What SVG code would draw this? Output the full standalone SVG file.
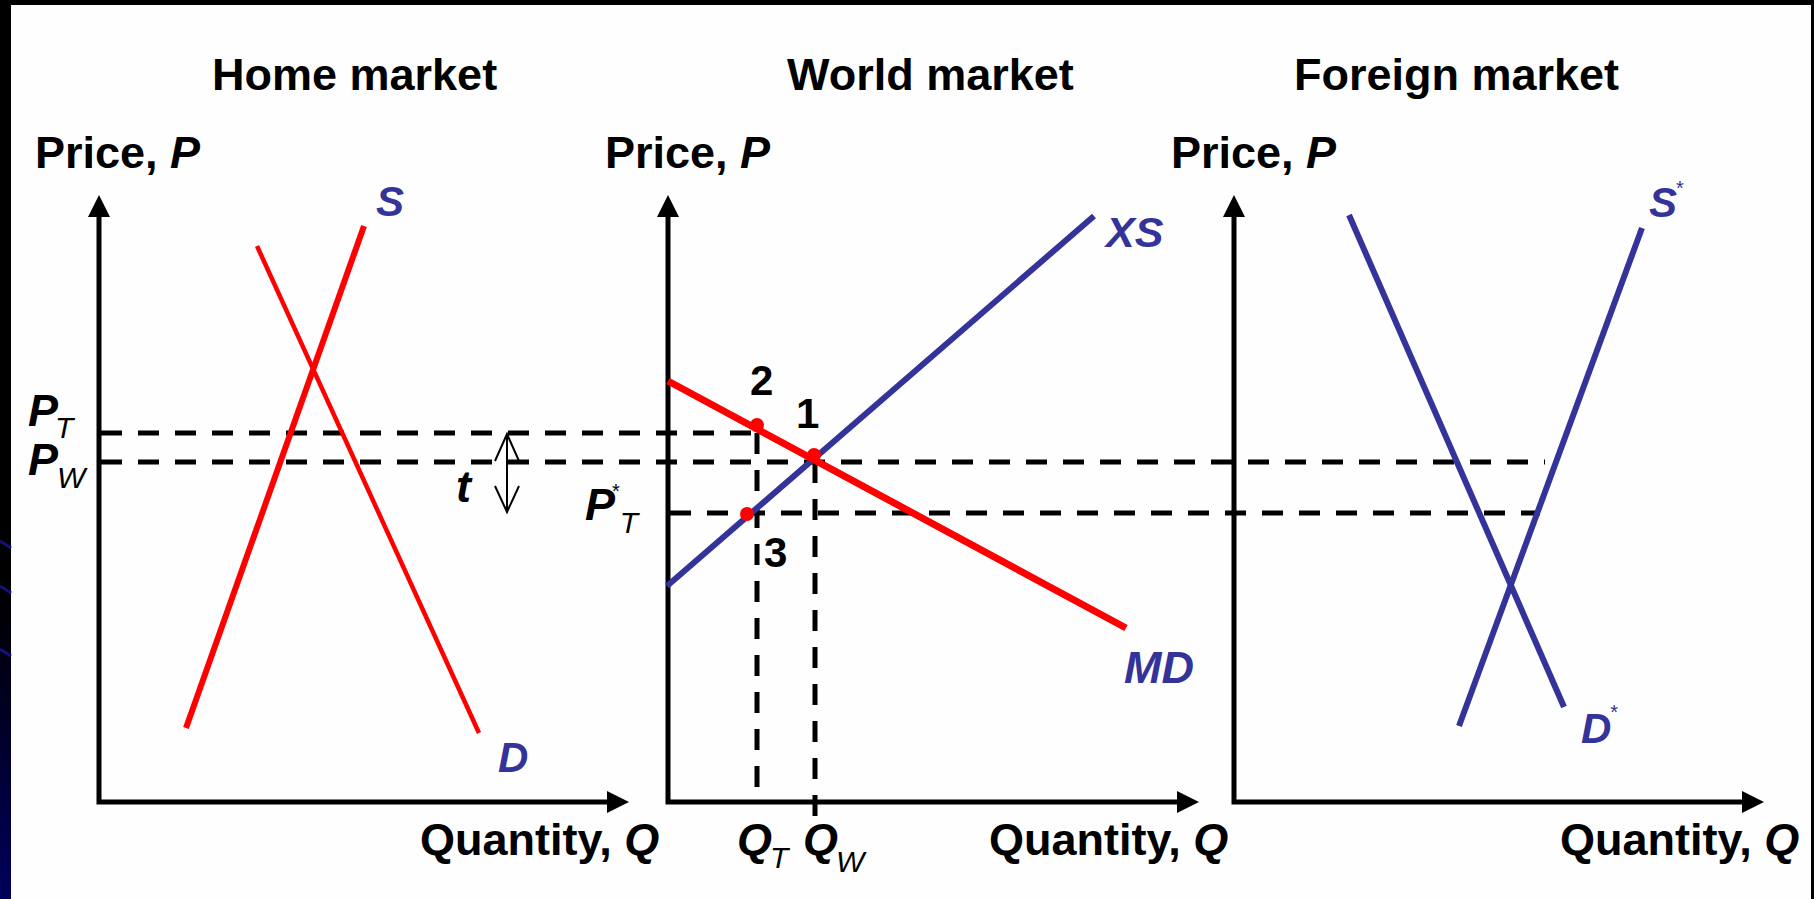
<svg xmlns="http://www.w3.org/2000/svg" width="1814" height="899" viewBox="0 0 1814 899">
<defs>
<linearGradient id="band" x1="0" y1="0" x2="0" y2="899" gradientUnits="userSpaceOnUse">
<stop offset="0" stop-color="#000"/>
<stop offset="0.66" stop-color="#000"/>
<stop offset="1" stop-color="#00005c"/>
</linearGradient>
<marker id="ah" markerUnits="userSpaceOnUse" markerWidth="24" markerHeight="24" refX="2" refY="11" orient="auto-start-reverse">
<path d="M0,0 L22,11 L0,22 z" fill="#000"/>
</marker>
</defs>
<style>
text{font-family:"Liberation Sans",Arial,sans-serif;font-weight:bold;fill:#000;font-size:45px}
.i{font-style:italic}
.sub{font-size:30px;font-weight:normal;font-style:italic}
.star{font-size:20px;font-weight:normal;font-style:normal}
.blue{fill:#333399}
.num{font-size:42px}
.axis{fill:none;stroke:#000;stroke-width:5;stroke-linejoin:miter;marker-start:url(#ah);marker-end:url(#ah)}
.dash{stroke:#000;stroke-width:5;stroke-dasharray:21 16;fill:none}
.red{stroke:#ff0000;fill:none;stroke-width:6}
.bl{stroke:#333399;fill:none;stroke-width:6}
.dot{fill:#ff0000}
</style>
<rect x="0" y="0" width="1814" height="899" fill="#fefefe"/>
<g id="frame">
<rect x="0" y="0" width="1814" height="5" fill="#000"/>
<rect x="0" y="0" width="11" height="899" fill="url(#band)"/>
<rect x="1811" y="0" width="3" height="899" fill="#000"/>
<g stroke="#12127a" stroke-width="3">
<line x1="0" y1="541" x2="11" y2="548"/>
<line x1="0" y1="586" x2="11" y2="593"/>
<line x1="0" y1="649" x2="11" y2="656"/>
</g>
</g>
<g id="titles">
<text x="212" y="90">Home market</text>
<text x="787" y="90">World market</text>
<text x="1294" y="90">Foreign market</text>
</g>
<g id="connectors">
<path class="dash" d="M101,433 H757"/>
<path class="dash" d="M101,462 H1545"/>
<path class="dash" d="M670,513 H1540"/>
<path class="dash" d="M757,433 V802"/>
<path class="dash" d="M815,462 V818"/>
<g stroke="#000" stroke-width="2" fill="none">
<line x1="507" y1="434" x2="507" y2="512"/>
<polyline points="495,461 507,434 519,461"/>
<polyline points="495,486 507,512 519,486"/>
</g>
</g>
<g id="home">
<path class="axis" d="M99,215 V802 H609"/>
<text x="35" y="168">Price, <tspan class="i">P</tspan></text>
<text x="420" y="855">Quantity, <tspan class="i">Q</tspan></text>
<line class="red" x1="186" y1="728" x2="364" y2="226"/>
<line class="red" style="stroke-width:4.5" x1="257" y1="246" x2="479" y2="733"/>
<text class="i blue" x="376" y="216" style="font-size:42px">S</text>
<text class="i blue" x="498" y="772" style="font-size:42px">D</text>
<text class="i" x="28" y="426">P<tspan class="sub" dx="-3" dy="12">T</tspan></text>
<text class="i" x="28" y="475">P<tspan class="sub" dx="-1" dy="13">W</tspan></text>
<text class="i" x="456" y="502">t</text>
</g>
<g id="world">
<path class="axis" d="M668,215 V802 H1179"/>
<text x="605" y="168">Price, <tspan class="i">P</tspan></text>
<text x="989" y="855">Quantity, <tspan class="i">Q</tspan></text>
<line class="bl" x1="667" y1="586" x2="1094" y2="216"/>
<line class="red" style="stroke-width:7" x1="668" y1="381" x2="1126" y2="628"/>
<text class="i blue" x="1106" y="247" style="font-size:43px">XS</text>
<text class="i blue" x="1124" y="683">MD</text>
<circle class="dot" cx="757" cy="425" r="7"/>
<circle class="dot" cx="814" cy="455" r="7"/>
<circle class="dot" cx="747" cy="514" r="7"/>
<text class="num" x="750" y="395">2</text>
<text class="num" x="796" y="428">1</text>
<text class="num" x="764" y="567">3</text>
<text class="i" x="585" y="520">P<tspan class="star" dx="-3" dy="-22">*</tspan><tspan class="sub" dx="0" dy="35">T</tspan></text>
<text class="i" x="737" y="855">Q<tspan class="sub" dx="-2" dy="13">T</tspan></text>
<text class="i" x="803" y="855">Q<tspan class="sub" dx="-2" dy="17">W</tspan></text>
</g>
<g id="foreign">
<path class="axis" d="M1234,215 V802 H1744"/>
<text x="1171" y="168">Price, <tspan class="i">P</tspan></text>
<text x="1560" y="855">Quantity, <tspan class="i">Q</tspan></text>
<line class="bl" x1="1349" y1="215" x2="1564" y2="707"/>
<line class="bl" x1="1459" y1="726" x2="1642" y2="228"/>
<text class="i blue" x="1649" y="217" style="font-size:42px">S<tspan class="star" dx="-1" dy="-22">*</tspan></text>
<text class="i blue" x="1581" y="743" style="font-size:42px">D<tspan class="star" dx="-1" dy="-24">*</tspan></text>
</g>
</svg>
